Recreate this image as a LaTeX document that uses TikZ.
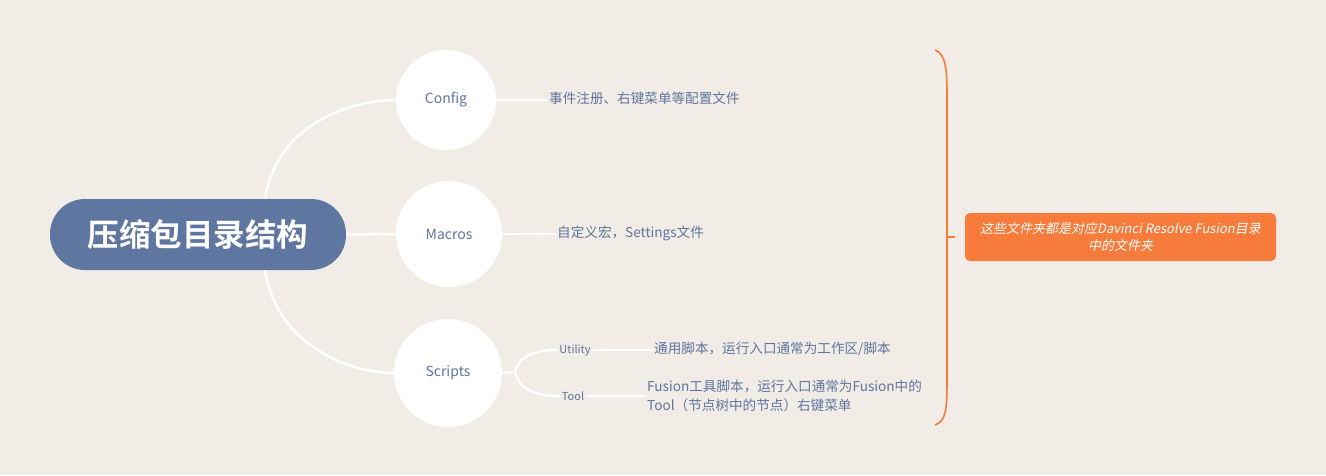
\documentclass[tikz,border=0pt]{standalone}
\usepackage{fontspec}
\setmainfont{Noto Sans CJK SC}[BoldFont={Noto Sans CJK SC Bold}]
\newfontfamily\slantfont{Noto Sans CJK SC}[FakeSlant=0.2]
\usepackage{xcolor}
\usepackage{tikz}
\usetikzlibrary{positioning,calc}
\definecolor{paperbg}{RGB}{241,236,230}
\definecolor{rootblue}{RGB}{94,118,160}
\definecolor{labelblue}{RGB}{96,117,160}
\definecolor{braceorange}{RGB}{247,123,58}

\begin{document}
\begin{tikzpicture}[x=1pt, y=-1pt,
  root/.style={fill=rootblue, rounded corners=35pt, minimum width=296pt, minimum height=71pt, text=white, font=\fontsize{31.5}{33}\selectfont\bfseries},
  folder/.style={circle, fill=white, inner sep=0pt, text=labelblue, font=\fontsize{14}{16}\selectfont},
  leaf/.style={anchor=west, inner sep=1pt, text=labelblue, align=left, font=\fontsize{13.6}{19}\selectfont},
  sub/.style={inner sep=2pt, text=labelblue, font=\fontsize{11}{13}\selectfont},
  link/.style={draw=white, line width=2.5pt},
  brace/.style={draw=braceorange, line width=1.6pt},
  summary/.style={fill=braceorange, rounded corners=5pt, minimum width=311pt, minimum height=48pt, text=white, align=center, font=\fontsize{13}{17}\slantfont}
]
\fill[paperbg] (0,0) rectangle (1326,475);
\useasboundingbox (0,0) rectangle (1326,475);

\node[root] (root) at (198,234.5) {压缩包目录结构};

\node[folder, minimum size=100pt] (config) at (446,100) {Config};
\node[folder, minimum size=106pt] (macros) at (449,234) {Macros};
\node[folder, minimum size=108pt] (scripts) at (448,373) {Scripts};

\draw[link] ([xshift=67pt]root.north) .. controls +(12,-75) and +(-45,0) .. (config.west);
\draw[link] (root.east) -- (macros.west);
\draw[link] ([xshift=67pt]root.south) .. controls +(12,75) and +(-45,0) .. (scripts.west);

\node[leaf] (configtxt) at (548,98) {事件注册、右键菜单等配置文件};
\node[leaf] (macrostxt) at (556,233) {自定义宏，Settings文件};
\draw[link] (config.east) -- (config.east -| configtxt.west);
\draw[link] (macros.east) -- (macros.east -| macrostxt.west);

\node[sub] (utility) at (575,350) {Utility};
\node[sub] (tool) at (573,396) {Tool};
\coordinate (fork) at (515,372);
\draw[link] (scripts.east) -- (fork);
\draw[link] (fork) .. controls +(5,-20) and +(-15,0) .. (utility.west);
\draw[link] (fork) .. controls +(5,22) and +(-15,0) .. (tool.west);

\node[leaf] (utilitytxt) at (653,349) {通用脚本，运行入口通常为工作区/脚本};
\node[leaf] (tooltxt) at (646,396) {Fusion工具脚本，运行入口通常为Fusion中的\\Tool（节点树中的节点）右键菜单};
\draw[link] (utility.east) -- (utility.east -| utilitytxt.west);
\draw[link] (tool.east) -- (tool.east -| tooltxt.west);

\node[summary] (note) at (1120.5,237) {这些文件夹都是对应Davinci Resolve Fusion目录\\中的文件夹};
\coordinate (bracetop) at (935,50);
\coordinate (bracebot) at (935,425);
\coordinate (bracemid) at (947,237);
\draw[brace] (bracetop) .. controls (946,54) and (947,70) .. (947,95) -- (947,380) .. controls (947,410) and (946,421) .. (bracebot);
\draw[brace] (bracemid) -- ++(8,0);
\end{tikzpicture}
\end{document}
